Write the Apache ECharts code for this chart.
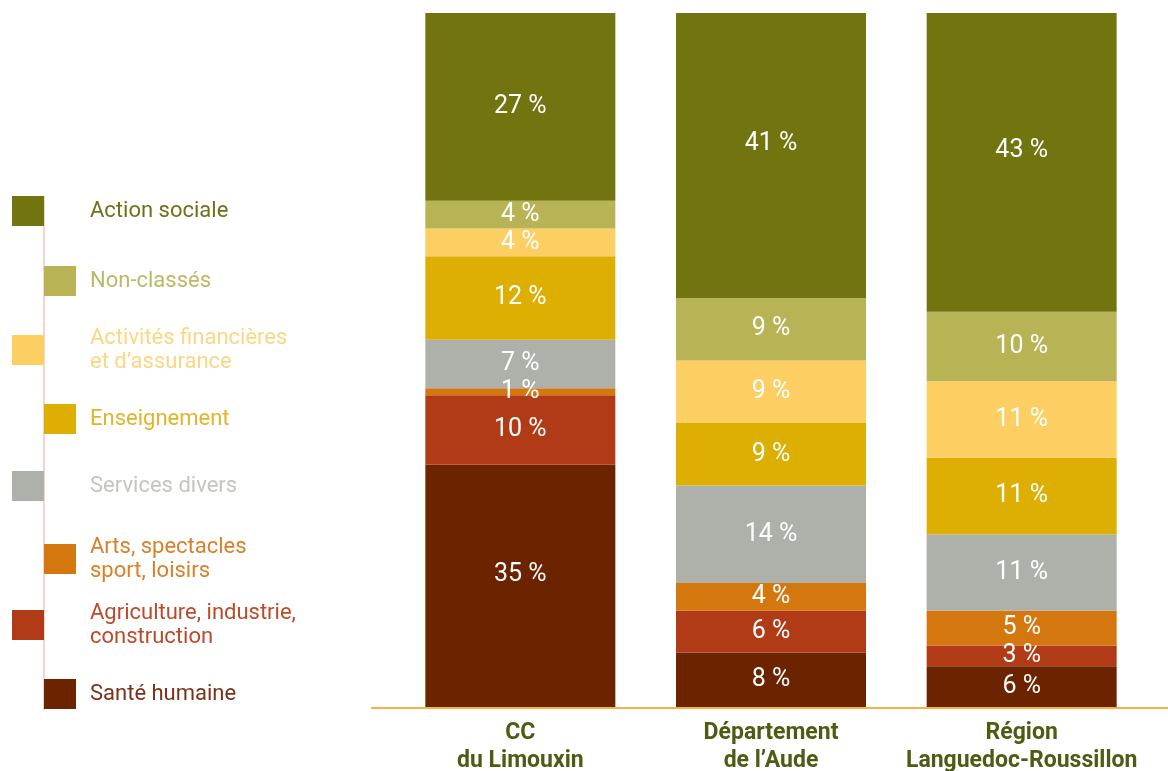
<!DOCTYPE html>
<html>
<head>
<meta charset="utf-8">
<script src="https://cdn.jsdelivr.net/npm/echarts@6/dist/echarts.min.js"></script>
<style>
  html, body { margin: 0; padding: 0; background: #fff; }
  #chart { width: 1168px; height: 771px; }
</style>
</head>
<body>
<div id="chart"></div>
<script>
// territoires
var categories = ['CC\ndu Limouxin', 'Département\nde l\u2019Aude', 'Région\nLanguedoc-Roussillon'];

// parts (%) par secteur, du bas vers le haut de la pile
var santeHumaine   = [35, 8, 6];
var agriculture    = [10, 6, 3];
var arts           = [1, 4, 5];
var servicesDivers = [7, 14, 11];
var enseignement   = [12, 9, 11];
var activitesFin   = [4, 9, 11];
var nonClasses     = [4, 9, 10];
var actionSociale  = [27, 41, 43];

var seriesDefs = [
  { name: 'Santé humaine', data: santeHumaine, color: '#6b2300', text: '#7a3218' },
  { name: 'Agriculture, industrie,\nconstruction', data: agriculture, color: '#b03b16', text: '#bb4a2a' },
  { name: 'Arts, spectacles\nsport, loisirs', data: arts, color: '#d5770f', text: '#d98028' },
  { name: 'Services divers', data: servicesDivers, color: '#aeb1aa', text: '#c4c5c0' },
  { name: 'Enseignement', data: enseignement, color: '#ddaf02', text: '#e2b42a' },
  { name: 'Activités financières\net d\u2019assurance', data: activitesFin, color: '#fdcf63', text: '#fdd684' },
  { name: 'Non-classés', data: nonClasses, color: '#b8b456', text: '#bcb866' },
  { name: 'Action sociale', data: actionSociale, color: '#72740f', text: '#6f7218' }
];

var chart = echarts.init(document.getElementById('chart'));

var series = seriesDefs.map(function (s) {
  return {
    name: s.name,
    type: 'bar',
    stack: 'total',
    barWidth: 190,
    data: s.data.map(function (v) {
      // les très grands blocs ont leur étiquette un peu au-dessus du centre
      return v > 30 ? { value: v, label: { offset: [0, -12] } } : v;
    }),
    itemStyle: { color: s.color },
    label: {
      show: true,
      position: 'inside',
      formatter: '{c} %',
      color: '#ffffff',
      fontFamily: 'Roboto',
      fontSize: 25
    }
  };
});

// légende : de haut en bas, carrés alternés gauche/droite
var legendTops = [196, 266, 333, 404, 471, 542, 608, 679];
var legends = seriesDefs.slice().reverse().map(function (s, i) {
  var leftCol = i % 2 === 0;
  var twoLines = s.name.indexOf('\n') >= 0;
  return {
    data: [s.name],
    left: leftCol ? 12 : 44,
    top: legendTops[i] - (twoLines ? 7 : 0),
    padding: 0,
    itemWidth: 32,
    itemHeight: 30,
    selectedMode: false,
    icon: 'rect',
    textStyle: {
      color: s.text,
      fontFamily: 'Roboto',
      fontSize: 22,
      lineHeight: 24,
      padding: [0, 0, 0, leftCol ? 41 : 9]
    }
  };
});

var option = {
  animation: false,
  grid: { left: 395, right: 21, top: 13, bottom: 63, outerBoundsMode: 'none', containLabel: false },
  legend: legends,
  xAxis: {
    type: 'category',
    data: categories,
    axisLine: { show: false },
    axisTick: { show: false },
    axisLabel: {
      interval: 0,
      margin: 11,
      color: '#4e5b12',
      fontFamily: 'Roboto',
      fontWeight: 'bold',
      fontSize: 23,
      lineHeight: 28
    }
  },
  yAxis: {
    type: 'value',
    min: 0,
    max: 100,
    show: false
  },
  graphic: [
    { type: 'line', shape: { x1: 371, y1: 708, x2: 1168, y2: 708 }, style: { stroke: '#f2b544', lineWidth: 2 }, z: 10 },
    { type: 'line', shape: { x1: 44, y1: 196, x2: 44, y2: 710 }, style: { stroke: '#f6c4bc', lineWidth: 1.5 }, z: -1 }
  ],
  series: series
};

option && chart.setOption(option);
</script>
</body>
</html>
